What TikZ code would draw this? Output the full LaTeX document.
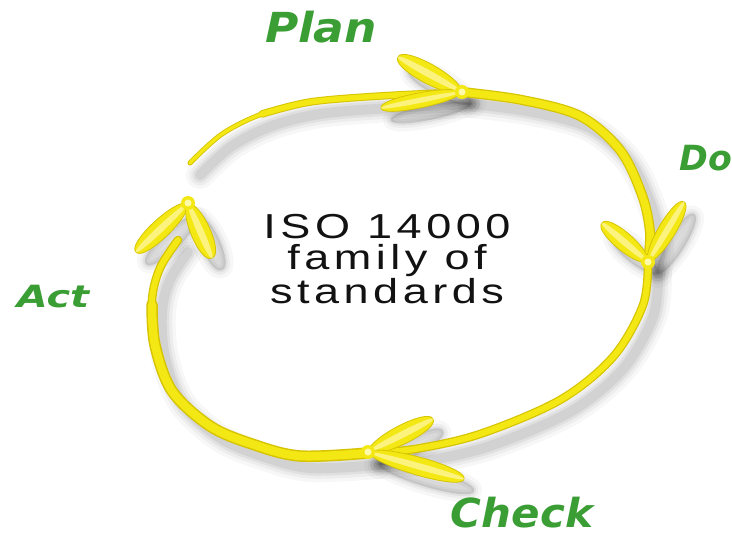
\documentclass[tikz,border=0pt]{standalone}
\usepackage{fontspec}
\newfontfamily\isofont[LetterSpace=10]{Liberation Sans}
\newfontfamily\pdcafont{DejaVu Sans}

\definecolor{lemon}{RGB}{244,232,20}
\definecolor{lemonedge}{RGB}{214,196,0}
\definecolor{lemonlight}{RGB}{255,249,170}
\definecolor{leafgreen}{RGB}{58,158,52}
\definecolor{inkblack}{RGB}{18,18,18}

% one chevron wing: style, apex x, apex y, end x, end y, control offset
\newcommand\wing[6]{%
  \pgfmathsetmacro\wdx{#4-#2}%
  \pgfmathsetmacro\wdy{#5-#3}%
  \pgfmathsetmacro\wlen{sqrt(\wdx*\wdx+\wdy*\wdy)}%
  \pgfmathsetmacro\wnx{-\wdy/\wlen*(#6)}%
  \pgfmathsetmacro\wny{\wdx/\wlen*(#6)}%
  \pgfmathsetmacro\wax{#2+0.1*\wdx}%
  \pgfmathsetmacro\way{#3+0.1*\wdy}%
  \pgfmathsetmacro\wbx{#2+1.02*\wdx}%
  \pgfmathsetmacro\wby{#3+1.02*\wdy}%
  \path[#1] (#2,#3) .. controls (\wax+\wnx,\way+\wny) and (\wbx+\wnx,\wby+\wny) .. (#4,#5)
    .. controls (\wbx-\wnx,\wby-\wny) and (\wax-\wnx,\way-\wny) .. (#2,#3) -- cycle;}

% the four arrowheads of the cycle
\newcommand\allwings[2]{%
  \wing{#1}{462}{92}{398}{57}{#2*13}
  \wing{#1}{462}{92}{381}{108}{#2*10}
  \wing{#1}{648}{262}{602}{223}{#2*12}
  \wing{#1}{648}{262}{684}{202}{#2*11.5}
  \wing{#1}{368}{452}{433}{419}{#2*12.5}
  \wing{#1}{368}{452}{464}{479}{#2*12}
  \wing{#1}{188}{203}{136}{252}{#2*12.5}
  \wing{#1}{188}{203}{212}{258}{#2*13}}

% the arcs of the cycle
\newcommand\ringtop[1]{\draw[#1] plot[smooth,tension=0.55] coordinates {(190,163) (222,134) (262,114) (310,102) (380,96) (462,92)};}
\newcommand\ringtopbody[1]{\draw[#1] plot[smooth,tension=0.55] coordinates {(262,114) (310,102) (380,96) (462,92)};}
\newcommand\ringright[1]{\draw[#1] plot[smooth,tension=0.55] coordinates {(462,92) (522,100) (580,116) (620,150) (642,195) (650,232) (648,262)};}
\newcommand\ringbottom[1]{\draw[#1] plot[smooth,tension=0.55] coordinates {(648,262) (643,305) (613,357) (560,400) (480,434) (415,449) (368,453)};}
\newcommand\ringleft[1]{\draw[#1] plot[smooth,tension=0.55] coordinates {(368,453) (300,456) (252,444) (210,426) (172,391) (155,345) (152,300) (160,268) (178,240)};}
\newcommand\ringleftbody[1]{\draw[#1] plot[smooth,tension=0.55] coordinates {(368,453) (300,456) (252,444) (210,426) (172,391) (155,345) (152,305)};}

\tikzset{
  rimline/.style={draw=lemonedge, line width=#1*0.75pt, line cap=round, line join=round},
  coreline/.style={draw=lemon, line width=#1*0.75pt, line cap=round, line join=round},
  haze/.style 2 args={draw=black, draw opacity=#2, line width=#1*0.75pt, line cap=round, line join=round},
  isotext/.style={font=\isofont\fontsize{26}{23.6}\selectfont, text=inkblack, align=center,
    inner sep=0pt, xscale=1.3, transform shape},
  pdca/.style={text=leafgreen, inner sep=0pt, anchor=base, transform shape},
}

\begin{document}
\begin{tikzpicture}[x=0.75pt,y=-0.75pt]
\useasboundingbox (0,0) rectangle (732,535);
\clip (0,0) rectangle (732,535);
\fill[white] (0,0) rectangle (732,535);

% soft drop shadow under the cycle
\begin{scope}[shift={(10,12)}]
  \foreach \w/\o in {28/0.03,21/0.04,15/0.05,10/0.06} {
    \ringtop{haze={\w}{\o}}
    \ringright{haze={\w}{\o}}
    \ringbottom{haze={\w}{\o}}
    \ringleft{haze={\w}{\o}}
  }
  \foreach \w/\o in {16/0.03,9/0.04,4/0.05} {
    \allwings{draw=black,draw opacity=\o,line width=\w*0.75pt,fill=black,fill opacity=\o,line join=round}{1}
  }
\end{scope}

% yellow arcs
\ringtop{rimline=5}
\ringtopbody{rimline=7.5}
\ringright{rimline=10}
\ringbottom{rimline=8.5}
\ringleft{rimline=8.5}
\ringleftbody{rimline=11.5}
\ringtop{coreline=3.2}
\ringtopbody{coreline=5.5}
\ringright{coreline=7.5}
\ringbottom{coreline=6}
\ringleft{coreline=6}
\ringleftbody{coreline=8.5}

% arrowheads
\allwings{fill=lemon, draw=lemonedge, line width=0.6pt, line join=round}{1}
\allwings{fill=lemonlight, fill opacity=0.7}{0.35}
\foreach \p in {(462,92),(648,262),(368,452),(188,203)} {
  \fill[lemon] \p circle (7);
  \fill[lemonlight] \p circle (3.5);
}

% centre text
\node[isotext] (iso) at (387,259) {ISO 14000\\family of\\standards};

% cycle labels
\node[pdca, font=\pdcafont\fontsize{31}{31}\selectfont\bfseries\itshape, xscale=1.1] (plan) at (321,43) {Plan};
\node[pdca, font=\pdcafont\fontsize{26}{26}\selectfont\bfseries\itshape, anchor=base west] (do) at (679,170) {Do};
\node[pdca, font=\pdcafont\fontsize{30}{30}\selectfont\bfseries\itshape, xscale=1.05] (check) at (522,527) {Check};
\node[pdca, font=\pdcafont\fontsize{23}{23}\selectfont\bfseries\itshape, xscale=1.3] (act) at (53,307) {Act};
\end{tikzpicture}
\end{document}
